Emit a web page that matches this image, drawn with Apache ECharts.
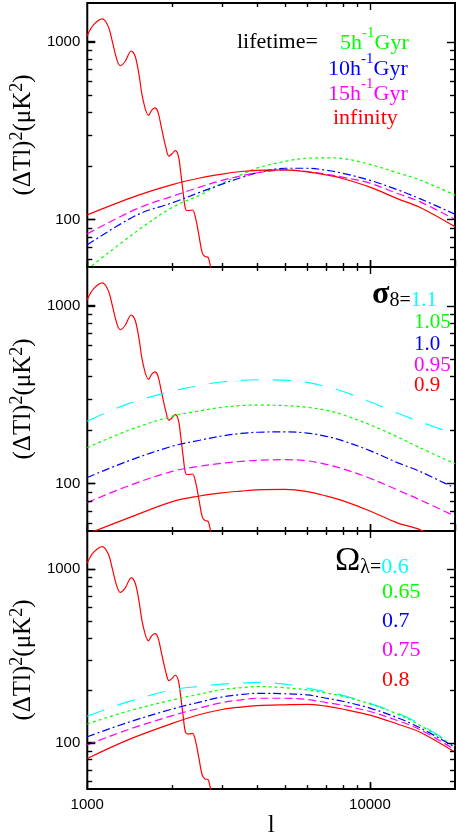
<!DOCTYPE html>
<html><head><meta charset="utf-8">
<script src="https://cdn.jsdelivr.net/npm/echarts@6/dist/echarts.min.js"></script>
<style>html,body{margin:0;padding:0;background:#fff}#c{width:458px;height:839px}</style>
</head><body><div id="c"></div><script>
// primary (oscillating) spectrum, same in all panels
const primL = [1000,1052,1131,1187,1227,1269,1308,1359,1431,1479,1525,1572,1647,1689,1734,1778,1833,1896,1946,1995,2046,2098,2141,2184,2228,2278,2356,2421,2485,2550,2610,2676,2710,2745,2800];
const primY = [1081,1242,1343,1215,1000,805,732,771,886,823,648,478,385,411,424,403,324,255,227,234,244,229,184,142,114,112,113,100.5,80.8,65.1,61.8,61.2,57.2,52.5,47];

// panel 1: lifetime
const ell1 = [1000,1500,2000,2500,3000,3500,4000,5000,6000,7000,8000,10000,12500,15000,20000];
const p1Life5  = [52.4,86,117,137,160,178,195,212,221,222,220,204,183,167,137];
const p1Life10 = [72,106,124,142,158,172,183,194,194,189,182,166,147,131,107];
const p1Life15 = [83,115,135,152,166,176,183,190,186,180,173,160,140,126,100];
const p1LifeInf= [106,136,157,171,180,186,189,190,185,178,170,152,131,117,91];

// panels 2 & 3 share l grid
const ell23 = [1000,1400,2000,2500,3000,3500,4000,5000,6000,7000,8000,10000,12500,15000,20000];
// panel 2: sigma8
const p2S110 = [224,281,330,356,372,380,383,381,370,350,330,288,249,223,189];
const p2S105 = [159,199,239,256,268,274,276,274,268,258,244,214,183,159,129];
const p2S100 = [108,134,162,175,185,191,194,195,192,184,174,153,131,117,94];
const p2S095 = [78,97,117,125,130,133,135,136,134,128,121,107,92,81,65.5];
const p2S090 = [52,64,79,85,88.5,90.5,92,92.5,90,85,80,70,60,55,44];
// panel 3: Omega_lambda
const p3O060 = [142,172,201,211,217,220,222,217,206,196,187,168,148,128,96];
const p3O065 = [128,152,176,190,202,207,210,207,201,193,185,167,146,126,95];
const p3O070 = [108,131,156,171,183,189,192,191,188,180,173,158,139,122,94];
const p3O075 = [97,119,143,158,170,176,180,180,177,170,164,151,134,119,91];
const p3O080 = [81,104,129,145,155,160,163,165,166,162,156,144,128,115,88];

// ticks
const xTickValues = [1000, 10000];
const yTickValues = [100, 1000];
const xMinorTicks = [2000,3000,4000,5000,6000,7000,8000,9000];
const yMinorTicks = [60,70,80,90,200,300,400,500,600,700,800,900];

const X_MIN = 1000, X_MAX = 20000, Y_MIN = 54, Y_MAX = 1650;

const RED='#ff0000', GREEN='#00ff00', BLUE='#0000ff', MAG='#ff00ff', CYAN='#00ffff';
const SOLID='solid', DOT=[3,3], DASHDOT=[8,3,2,3], DASH=[8,4], LDASH=[18,14];

function line(gi, xs, ys, color, type) {
  return {type:'line', xAxisIndex:gi, yAxisIndex:gi, data: xs.map((x,i)=>[x, ys[i]]),
    showSymbol:false, smooth:0.35, clip:true, silent:true, animation:false,
    lineStyle:{color:color, width:1.2, type:type}};
}
function ticks(gi) {
  const data = [];
  yMinorTicks.forEach(v => data.push([X_MIN, v, 0]));
  yTickValues.forEach(v => data.push([X_MIN, v, 1]));
  xMinorTicks.forEach(v => data.push([v, Y_MIN, 2]));
  data.push([10000, Y_MIN, 3]);
  return {type:'custom', coordinateSystem:'cartesian2d', xAxisIndex:gi, yAxisIndex:gi, silent:true, clip:false, animation:false, z:5,
    data:data,
    renderItem: function(params, api) {
      const cs = params.coordSys;
      const k = api.value(2);
      const p = api.coord([api.value(0), api.value(1)]);
      const st = {stroke:'#000', lineWidth:1.4, fill:null};
      if (k < 2) {
        const len = k === 1 ? 8 : 5;
        const y = Math.round(p[1]) + 0.5;
        return {type:'group', children:[
          {type:'line', shape:{x1:cs.x, y1:y, x2:cs.x+len, y2:y}, style:st},
          {type:'line', shape:{x1:cs.x+cs.width, y1:y, x2:cs.x+cs.width-len, y2:y}, style:st}
        ]};
      }
      const len = k === 3 ? 7 : 4;
      const x = Math.round(p[0]) + 0.5;
      return {type:'group', children:[
        {type:'line', shape:{x1:x, y1:cs.y, x2:x, y2:cs.y+len}, style:st},
        {type:'line', shape:{x1:x, y1:cs.y+cs.height, x2:x, y2:cs.y+cs.height-len}, style:st}
      ]};
    }};
}

const grids = [
  {left:65, right:3, top:3, height:264},
  {left:65, right:3, top:267, height:264},
  {left:65, right:3, top:531, height:266}
].map(g => Object.assign(g, {show:true, borderColor:'#000', borderWidth:2, backgroundColor:'transparent'}));

const yName = '{m|(ΔTl)}{s|2}{m|(μK}{s|2}{m|)}';
const xAxes = [0,1,2].map(i => ({
  type:'log', gridIndex:i, min:X_MIN, max:X_MAX,
  axisLine:{show:false}, splitLine:{show:false},
  axisTick:{show:true, inside:true, length:7, lineStyle:{color:'#000', width:1.4}},
  axisLabel:{show:i===2, color:'#000', fontSize:15, fontFamily:'Liberation Sans', margin:8,
    showMinLabel:true, showMaxLabel:false,
    formatter: v => xTickValues.indexOf(Math.round(v)) >= 0 ? String(Math.round(v)) : ''},
  name: i===2 ? 'l' : '', nameLocation:'middle', nameGap:19,
  nameTextStyle:{fontFamily:'Liberation Serif', fontSize:25, color:'#000'}
}));
const yAxes = [0,1,2].map(i => ({
  type:'log', gridIndex:i, min:Y_MIN, max:Y_MAX,
  axisLine:{show:false}, splitLine:{show:false},
  axisTick:{show:true, inside:true, length:8, lineStyle:{color:'#000', width:1.4}},
  axisLabel:{color:'#000', fontSize:15, fontFamily:'Liberation Sans', margin:7,
    showMinLabel:false, showMaxLabel:false,
    formatter: v => yTickValues.indexOf(Math.round(v)) >= 0 ? String(Math.round(v)) : ''},
  name: yName, nameLocation:'middle', nameGap:35, nameRotate:90,
  nameTextStyle:{rich:{
    m:{fontFamily:'Liberation Serif', fontSize:25, color:'#000', lineHeight:28, verticalAlign:'bottom'},
    s:{fontFamily:'Liberation Serif', fontSize:18, color:'#000', lineHeight:16, verticalAlign:'top'}
  }}
}));

function sup(x, y, main1, supTxt, main2, color) {
  return {type:'text', x:x, y:y, silent:true, style:{
    text:'{a|'+main1+'}{s|'+supTxt+'}{a|'+main2+'}', verticalAlign:'middle', align:'left',
    rich:{a:{fontFamily:'Liberation Serif', fontSize:22, fill:color, lineHeight:28, verticalAlign:'bottom'},
          s:{fontFamily:'Liberation Serif', fontSize:15, fill:color, lineHeight:14, verticalAlign:'top'}}}};
}
function txt(x, y, t, color, size, extra) {
  return {type:'text', x:x, y:y, silent:true, style:Object.assign({text:t, fill:color,
    font:(size||21)+'px "Liberation Serif"', verticalAlign:'middle', align:'left'}, extra||{})};
}

const graphics = [
  txt(237, 42, 'lifetime=', '#000', 22),
  sup(340, 40, '5h', '-1', 'Gyr', GREEN),
  sup(328, 66, '10h', '-1', 'Gyr', BLUE),
  sup(328, 91, '15h', '-1', 'Gyr', MAG),
  txt(333, 118, 'infinity', RED, 22),
  {type:'text', x:372, y:311, silent:true, style:{text:'{g|σ}{n|8=}{c|1.1}', verticalAlign:'bottom', align:'left',
    rich:{g:{fontFamily:'Liberation Serif', fontSize:32, fontWeight:'bold', fill:'#000', verticalAlign:'bottom'},
          n:{fontFamily:'Liberation Serif', fontSize:20, fill:'#000', verticalAlign:'bottom'},
          c:{fontFamily:'Liberation Serif', fontSize:21, fill:CYAN, verticalAlign:'bottom'}}}},
  txt(414, 322, '1.05', GREEN, 21),
  txt(414, 344, '1.0', BLUE, 21),
  txt(414, 365, '0.95', MAG, 21),
  txt(414, 385, '0.9', RED, 21),
  {type:'text', x:335, y:578, silent:true, style:{text:'{g|Ω}{n|λ=}{c|0.6}', verticalAlign:'bottom', align:'left',
    rich:{g:{fontFamily:'Liberation Serif', fontSize:34, fill:'#000', verticalAlign:'bottom'},
          n:{fontFamily:'Liberation Serif', fontSize:20, fill:'#000', verticalAlign:'bottom'},
          c:{fontFamily:'Liberation Serif', fontSize:22, fill:CYAN, verticalAlign:'bottom'}}}},
  txt(382, 592, '0.65', GREEN, 22),
  txt(382, 621, '0.7', BLUE, 22),
  txt(382, 650, '0.75', MAG, 22),
  txt(382, 680, '0.8', RED, 22)
];

const series = [];
[0,1,2].forEach(gi => { series.push(ticks(gi)); series.push(line(gi, primL, primY, RED, SOLID)); });
series.push(line(0, ell1, p1Life5, GREEN, DOT));
series.push(line(0, ell1, p1Life10, BLUE, DASHDOT));
series.push(line(0, ell1, p1Life15, MAG, DASH));
series.push(line(0, ell1, p1LifeInf, RED, SOLID));
series.push(line(1, ell23, p2S110, CYAN, LDASH));
series.push(line(1, ell23, p2S105, GREEN, DOT));
series.push(line(1, ell23, p2S100, BLUE, DASHDOT));
series.push(line(1, ell23, p2S095, MAG, DASH));
series.push(line(1, ell23, p2S090, RED, SOLID));
series.push(line(2, ell23, p3O060, CYAN, LDASH));
series.push(line(2, ell23, p3O065, GREEN, DOT));
series.push(line(2, ell23, p3O070, BLUE, DASHDOT));
series.push(line(2, ell23, p3O075, MAG, DASH));
series.push(line(2, ell23, p3O080, RED, SOLID));

const chart = echarts.init(document.getElementById('c'), null, {renderer:'canvas'});
chart.setOption({
  animation:false, backgroundColor:'#fff',
  grid: grids, xAxis: xAxes, yAxis: yAxes, series: series, graphic: graphics
});
</script></body></html>
